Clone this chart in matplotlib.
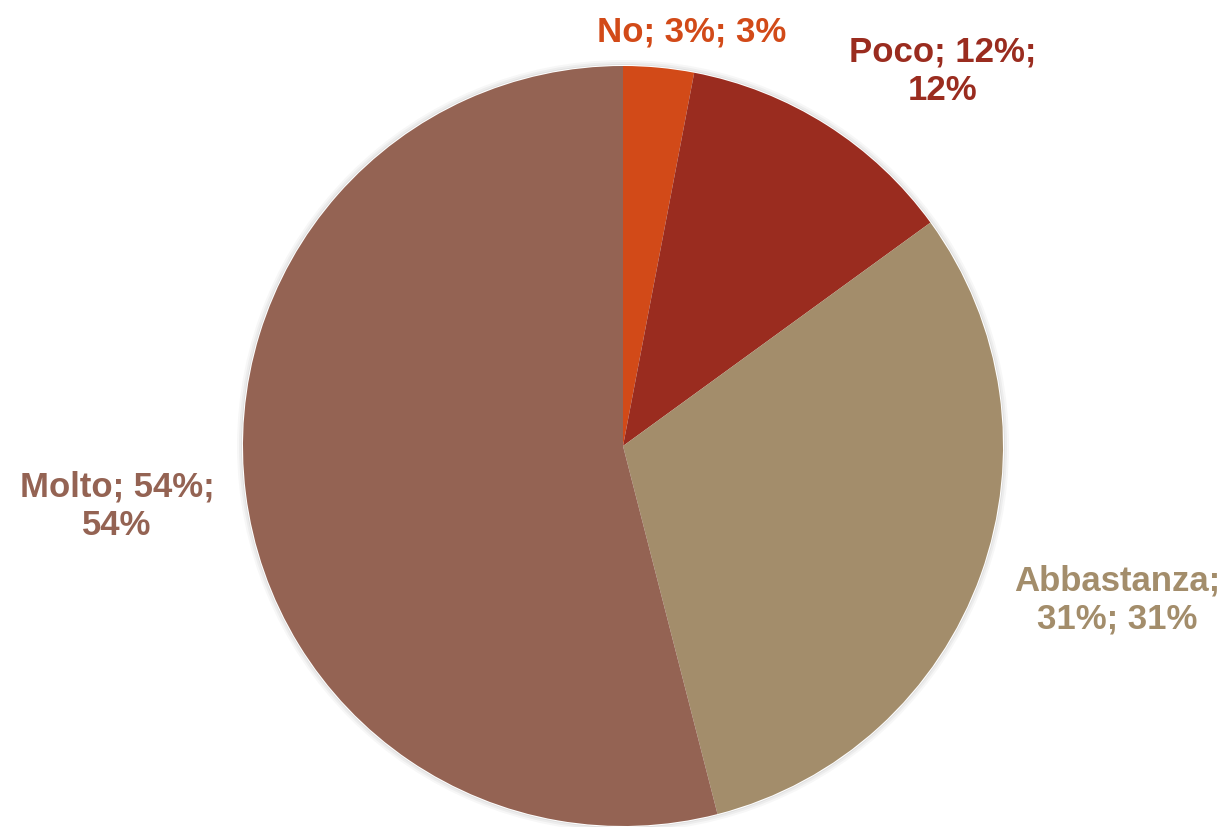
import matplotlib.pyplot as plt

# dati della torta
categorie = ['No', 'Poco', 'Abbastanza', 'Molto']
valori = [3, 12, 31, 54]
colori = ['#D24A18', '#9A2C1F', '#A38D6B', '#946353']
etichette = ['No; 3%; 3%', 'Poco; 12%;\n12%', 'Abbastanza;\n31%; 31%', 'Molto; 54%;\n54%']

# posizioni delle etichette (pixel, origine in basso)
pos_etichette = [(692, 796), (943, 757), (1117, 228), (117, 322)]

fig = plt.figure(figsize=(12.26, 8.28), dpi=100)
ax = fig.add_axes([0, 0, 1, 1])

# ombra leggera
for i, a in enumerate([0.05, 0.04, 0.03]):
    ombra = plt.Circle((623, 381), 380 + 2 * (i + 1), color='black', alpha=a, lw=0, zorder=0)
    ax.add_patch(ombra)
ax.add_patch(plt.Circle((623, 381), 381, color='white', lw=0, zorder=0.5))

ax.pie(valori, colors=colori, startangle=90, counterclock=False,
       center=(623, 381), radius=380, frame=True,
       wedgeprops={'linewidth': 0, 'zorder': 1})
ax.set_xlim(0, 1226)
ax.set_ylim(0, 828)
ax.set_aspect('equal')
ax.axis('off')

for testo, (x, y), c in zip(etichette, pos_etichette, colori):
    ax.text(x, y, testo, color=c, ha='center', va='center', fontsize=25,
            fontweight='bold', family='Liberation Sans', linespacing=1.2)

fig.savefig('out.png', dpi=100)
